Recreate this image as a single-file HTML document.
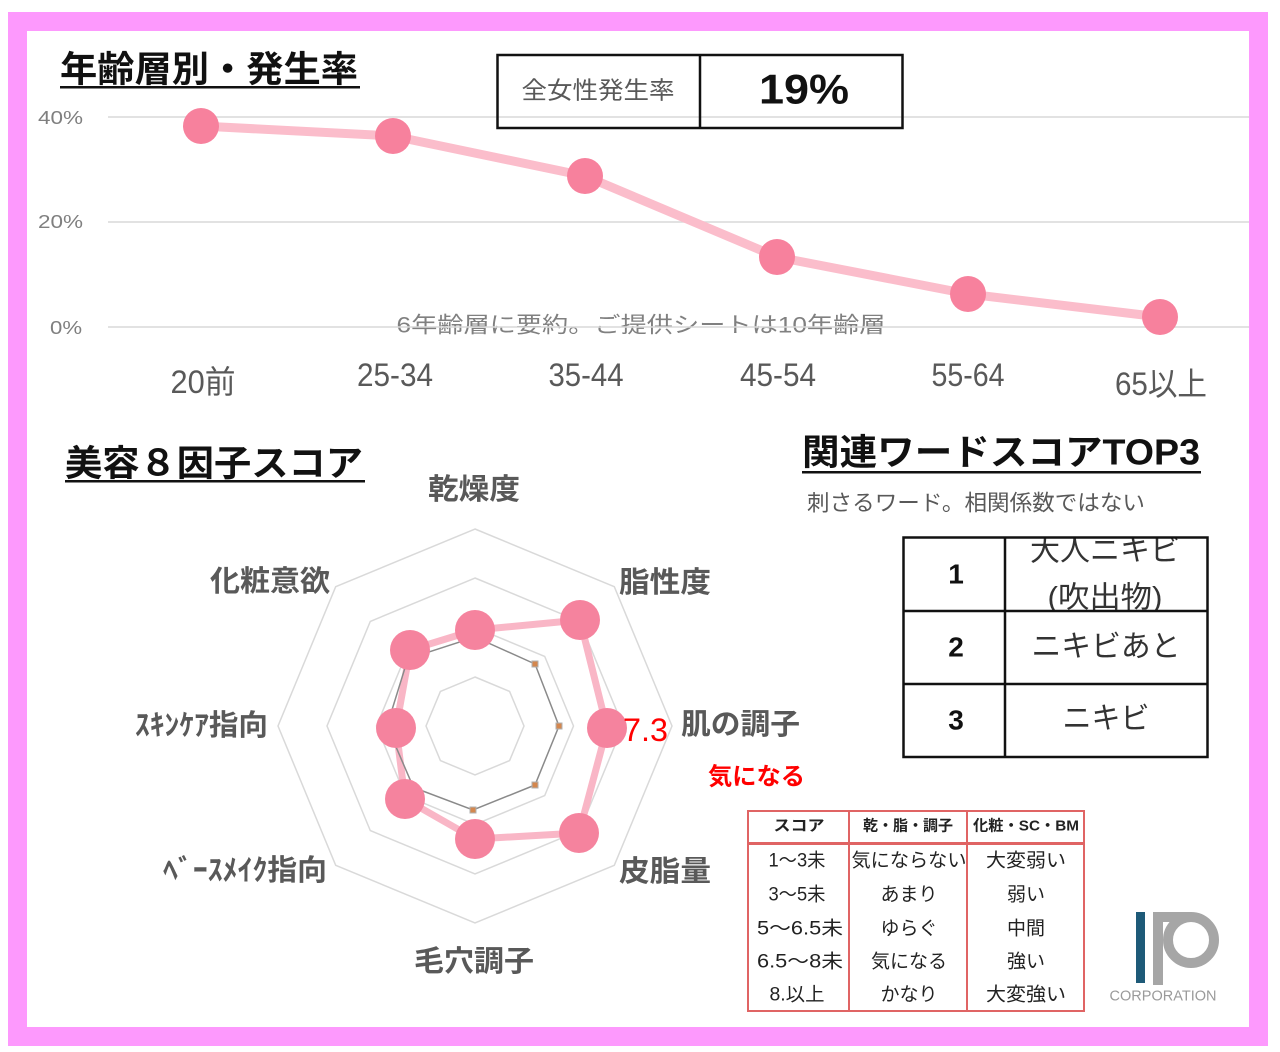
<!DOCTYPE html>
<html><head><meta charset="utf-8">
<style>
html,body{margin:0;padding:0;background:#fff;}
svg{display:block;}
text{font-family:"Liberation Sans","Noto Sans CJK JP",sans-serif;}
</style></head><body>
<svg width="1280" height="1052" viewBox="0 0 1280 1052" xmlns="http://www.w3.org/2000/svg">
<rect width="1280" height="1052" fill="#fff"/>
<rect x="17.5" y="21.5" width="1241" height="1015" fill="#fff" stroke="#FD99FD" stroke-width="19"/>

<!-- ===== Line chart ===== -->
<text x="60" y="69" font-size="36" font-weight="bold" fill="#111" dominant-baseline="central" textLength="298" lengthAdjust="spacingAndGlyphs">年齢層別・発生率</text>
<rect x="60" y="86" width="300" height="2.5" fill="#111"/>

<text x="641" y="325" font-size="22" fill="#808080" text-anchor="middle" dominant-baseline="central" textLength="489" lengthAdjust="spacingAndGlyphs">6年齢層に要約。ご提供シートは10年齢層</text>

<g stroke="#d9d9d9" stroke-width="1.5">
<line x1="108" y1="117" x2="1249" y2="117"/>
<line x1="108" y1="222" x2="1249" y2="222"/>
<line x1="108" y1="327" x2="1249" y2="327"/>
</g>
<g font-size="18" fill="#7f7f7f" text-anchor="end" dominant-baseline="central">
<text x="83" y="118" textLength="45" lengthAdjust="spacingAndGlyphs">40%</text>
<text x="83" y="222" textLength="45" lengthAdjust="spacingAndGlyphs">20%</text>
<text x="82" y="328" textLength="32" lengthAdjust="spacingAndGlyphs">0%</text>
</g>

<rect x="497.5" y="55" width="405" height="73" fill="none" stroke="#111" stroke-width="2.5"/>
<line x1="700" y1="55" x2="700" y2="128" stroke="#111" stroke-width="2.5"/>
<text x="598" y="91" font-size="24" fill="#595959" text-anchor="middle" dominant-baseline="central" textLength="153" lengthAdjust="spacingAndGlyphs">全女性発生率</text>
<text x="804" y="89" font-size="42" font-weight="bold" fill="#111" text-anchor="middle" dominant-baseline="central" textLength="90" lengthAdjust="spacingAndGlyphs">19%</text>

<polyline points="201,126 393,136 585,176 777,257 968,294 1160,317" fill="none" stroke="#FBBDCB" stroke-width="9" stroke-linejoin="round" stroke-linecap="round"/>
<g fill="#F7819D">
<circle cx="201" cy="126" r="18"/>
<circle cx="393" cy="136" r="18"/>
<circle cx="585" cy="176" r="18"/>
<circle cx="777" cy="257" r="18"/>
<circle cx="968" cy="294" r="18"/>
<circle cx="1160" cy="317" r="18"/>
</g>

<g font-size="32" fill="#595959" text-anchor="middle" dominant-baseline="central">
<text x="203" y="382" textLength="65" lengthAdjust="spacingAndGlyphs">20前</text>
<text x="395" y="375" textLength="76" lengthAdjust="spacingAndGlyphs">25-34</text>
<text x="586" y="375" textLength="75" lengthAdjust="spacingAndGlyphs">35-44</text>
<text x="778" y="375" textLength="76" lengthAdjust="spacingAndGlyphs">45-54</text>
<text x="968" y="375" textLength="73" lengthAdjust="spacingAndGlyphs">55-64</text>
<text x="1161" y="384" textLength="92" lengthAdjust="spacingAndGlyphs">65以上</text>
</g>

<!-- ===== Radar ===== -->
<text x="65" y="463" font-size="36" font-weight="bold" fill="#111" dominant-baseline="central" textLength="298" lengthAdjust="spacingAndGlyphs">美容８因子スコア</text>
<rect x="65" y="480" width="300" height="2.5" fill="#111"/>

<g fill="none" stroke="#d9d9d9" stroke-width="1.5">
<polygon points="475,529 614.3,586.7 672,726 614.3,865.3 475,923 335.7,865.3 278,726 335.7,586.7"/>
<polygon points="475,578 579.7,621.4 623,726 579.7,830.6 475,874 370.3,830.6 327,726 370.3,621.4"/>
<polygon points="475,627.5 544.7,656.4 573.5,726 544.7,795.6 475,824.5 405.3,795.6 376.5,726 405.3,656.4"/>
<polygon points="475,677 509.6,691.4 524,726 509.6,760.6 475,775 440.4,760.6 426,726 440.4,691.4"/>
</g>

<polygon points="475,630 580,620 607,728 579,833 475,839 405,799 396,728 410,650" fill="none" stroke="#F9B6C6" stroke-width="7" stroke-linejoin="round"/>
<polygon points="475,637 535,664 559,726 535,785 473,810 413.5,787.5 387,726 407.8,658.8" fill="none" stroke="#8a8a8a" stroke-width="1.5"/>
<g fill="#D4874E" stroke="#b0b0b0" stroke-width="1">
<rect x="532" y="661" width="6" height="6"/>
<rect x="556" y="723" width="6" height="6"/>
<rect x="532" y="782" width="6" height="6"/>
<rect x="470" y="807" width="6" height="6"/>
</g>
<g fill="#F5839E">
<circle cx="475" cy="630" r="20"/>
<circle cx="580" cy="620" r="20"/>
<circle cx="607" cy="728" r="20"/>
<circle cx="579" cy="833" r="20"/>
<circle cx="475" cy="839" r="20"/>
<circle cx="405" cy="799" r="20"/>
<circle cx="396" cy="728" r="20"/>
<circle cx="410" cy="650" r="20"/>
</g>

<g font-size="29" font-weight="bold" fill="#595959" dominant-baseline="central">
<text x="474" y="490" text-anchor="middle" textLength="92" lengthAdjust="spacingAndGlyphs">乾燥度</text>
<text x="619" y="583" textLength="92" lengthAdjust="spacingAndGlyphs">脂性度</text>
<text x="681" y="725" textLength="119" lengthAdjust="spacingAndGlyphs">肌の調子</text>
<text x="619" y="872" textLength="92" lengthAdjust="spacingAndGlyphs">皮脂量</text>
<text x="474" y="962" text-anchor="middle" textLength="120" lengthAdjust="spacingAndGlyphs">毛穴調子</text>
<text x="330" y="582" text-anchor="end" textLength="120" lengthAdjust="spacingAndGlyphs">化粧意欲</text>
<text x="268" y="726" text-anchor="end" textLength="133" lengthAdjust="spacingAndGlyphs">ｽｷﾝｹｱ指向</text>
<text x="327" y="871" text-anchor="end" textLength="164" lengthAdjust="spacingAndGlyphs">ﾍﾞｰｽﾒｲｸ指向</text>
</g>
<text x="623" y="730" font-size="32" fill="#FF0000" dominant-baseline="central" textLength="45" lengthAdjust="spacingAndGlyphs">7.3</text>
<text x="708" y="777" font-size="24" font-weight="bold" fill="#FF0000" dominant-baseline="central" textLength="97" lengthAdjust="spacingAndGlyphs">気になる</text>

<!-- ===== TOP3 ===== -->
<text x="802" y="452" font-size="36" font-weight="bold" fill="#111" dominant-baseline="central" textLength="398" lengthAdjust="spacingAndGlyphs">関連ワードスコアTOP3</text>
<rect x="802" y="471" width="399" height="2.5" fill="#111"/>
<text x="807" y="503" font-size="22" fill="#595959" dominant-baseline="central" textLength="338" lengthAdjust="spacingAndGlyphs">刺さるワード。相関係数ではない</text>

<defs><clipPath id="c1"><rect x="1005" y="538" width="203" height="73"/></clipPath></defs>
<g font-size="30" fill="#333" text-anchor="middle" dominant-baseline="central">
<g clip-path="url(#c1)">
<text x="1105" y="551" textLength="150" lengthAdjust="spacingAndGlyphs">大人ニキビ</text>
<text x="1105" y="598" textLength="115" lengthAdjust="spacingAndGlyphs">(吹出物)</text>
</g>
<text x="1106" y="647" textLength="149" lengthAdjust="spacingAndGlyphs">ニキビあと</text>
<text x="1106" y="719" textLength="87" lengthAdjust="spacingAndGlyphs">ニキビ</text>
</g>
<g font-size="28" font-weight="bold" fill="#111" text-anchor="middle" dominant-baseline="central">
<text x="956" y="574">1</text>
<text x="956" y="647">2</text>
<text x="956" y="720">3</text>
</g>
<g stroke="#111" stroke-width="2.5" fill="none">
<rect x="903.5" y="537.5" width="304" height="219.5"/>
<line x1="1005" y1="537" x2="1005" y2="757"/>
<line x1="903" y1="611" x2="1208" y2="611"/>
<line x1="903" y1="684" x2="1208" y2="684"/>
</g>

<!-- ===== Legend table ===== -->
<g stroke="#E06464" fill="none" stroke-width="2">
<rect x="748" y="811" width="336" height="200"/>
<line x1="849" y1="811" x2="849" y2="1011"/>
<line x1="967" y1="811" x2="967" y2="1011"/>
<line x1="748" y1="843.5" x2="1084" y2="843.5" stroke-width="3"/>
</g>
<g font-size="15" font-weight="bold" fill="#222" text-anchor="middle" dominant-baseline="central">
<text x="799" y="826" textLength="51" lengthAdjust="spacingAndGlyphs">スコア</text>
<text x="908" y="826" textLength="90" lengthAdjust="spacingAndGlyphs">乾・脂・調子</text>
<text x="1026" y="826" textLength="106" lengthAdjust="spacingAndGlyphs">化粧・SC・BM</text>
</g>
<g font-size="19" fill="#222" text-anchor="middle" dominant-baseline="central">
<text x="797" y="861" textLength="57" lengthAdjust="spacingAndGlyphs">1～3未</text>
<text x="797" y="895" textLength="57" lengthAdjust="spacingAndGlyphs">3～5未</text>
<text x="800" y="929" textLength="86" lengthAdjust="spacingAndGlyphs">5～6.5未</text>
<text x="800" y="962" textLength="86" lengthAdjust="spacingAndGlyphs">6.5～8未</text>
<text x="797" y="995" textLength="55" lengthAdjust="spacingAndGlyphs">8.以上</text>
<text x="909" y="861" textLength="115" lengthAdjust="spacingAndGlyphs">気にならない</text>
<text x="909" y="895">あまり</text>
<text x="909" y="929">ゆらぐ</text>
<text x="909" y="962" textLength="76" lengthAdjust="spacingAndGlyphs">気になる</text>
<text x="909" y="995">かなり</text>
<text x="1026" y="861" textLength="80" lengthAdjust="spacingAndGlyphs">大変弱い</text>
<text x="1026" y="895">弱い</text>
<text x="1026" y="929">中間</text>
<text x="1026" y="962">強い</text>
<text x="1026" y="995" textLength="80" lengthAdjust="spacingAndGlyphs">大変強い</text>
</g>

<!-- ===== Logo ===== -->
<rect x="1136" y="912" width="9" height="71" fill="#1E5A78"/>
<rect x="1153" y="912" width="10" height="73" fill="#A6A6A6"/>
<rect x="1153" y="912" width="38" height="10" fill="#A6A6A6"/>
<circle cx="1191" cy="940" r="23" fill="none" stroke="#A6A6A6" stroke-width="10"/>
<text x="1163" y="996" font-size="15" fill="#9a9a9a" text-anchor="middle" dominant-baseline="central" textLength="107" lengthAdjust="spacingAndGlyphs">CORPORATION</text>
</svg>
</body></html>
